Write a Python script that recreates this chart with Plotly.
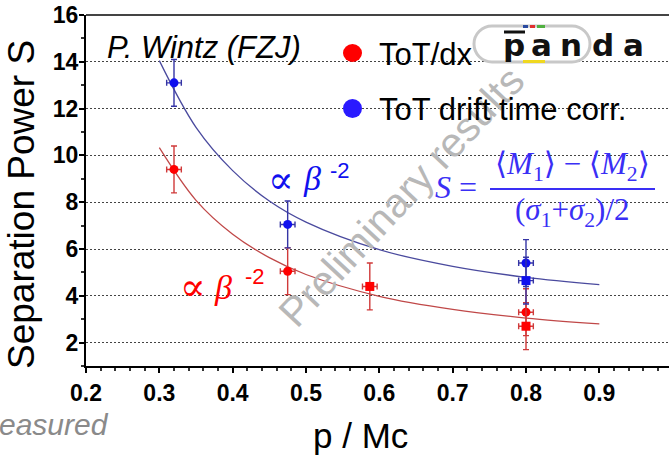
import plotly.graph_objects as go

# ---------------- data ----------------
red_circ_x = [0.32, 0.475, 0.80]
red_circ_y = [9.4, 5.05, 3.3]
red_circ_err = [1.0, 1.0, 1.0]

red_sq_x = [0.587, 0.80]
red_sq_y = [4.4, 2.7]
red_sq_err = [1.0, 1.0]

blue_circ_x = [0.32, 0.475, 0.80]
blue_circ_y = [13.1, 7.05, 5.4]
blue_circ_err = [1.0, 1.0, 1.0]

blue_sq_x = [0.80]
blue_sq_y = [4.65]
blue_sq_err = [1.0]

x_err = 0.01

fit_x = [0.30, 0.35, 0.40, 0.45, 0.50, 0.60, 0.70, 0.80, 0.90]
blue_fit = [14.05, 11.2, 9.35, 8.05, 7.15, 5.97, 5.26, 4.79, 4.48]
red_fit = [10.33, 8.08, 6.63, 5.63, 4.91, 3.98, 3.42, 3.05, 2.80]

x_ticks = [0.2, 0.3, 0.4, 0.5, 0.6, 0.7, 0.8, 0.9]
y_ticks = [2, 4, 6, 8, 10, 12, 14, 16]

# ---------------- layout helpers ----------------
W, H = 669, 456
PL, PR, PT, PB = 86, 669, 15, 366   # plot area in pixels


def px(x):
    return (x - PL) / (PR - PL)


def py(y):
    return (PB - y) / (PB - PT)


SANS = "Liberation Sans, Arial, sans-serif"
SERIF = "Liberation Serif, DejaVu Serif, serif"
RED = "#ff0000"
BLUE = "#1010ee"
FBLUE = "#3a2ff5"

fig = go.Figure()

# fit curves
fig.add_trace(go.Scatter(x=fit_x, y=blue_fit, mode="lines",
                         line=dict(color="#4a4a9e", width=1.3, shape="spline"),
                         hoverinfo="skip"))
fig.add_trace(go.Scatter(x=fit_x, y=red_fit, mode="lines",
                         line=dict(color="#c04848", width=1.3, shape="spline"),
                         hoverinfo="skip"))


def pts(x, y, e, color, ecolor, symbol):
    fig.add_trace(go.Scatter(
        x=x, y=y, mode="markers",
        marker=dict(color=color, size=9, symbol=symbol, line=dict(width=0)),
        error_y=dict(type="data", array=e, color=ecolor, thickness=1.4, width=3),
        error_x=dict(type="constant", value=x_err, color=ecolor, thickness=1.4, width=3),
    ))


pts(red_circ_x, red_circ_y, red_circ_err, RED, "#d03a3a", "circle")
pts(red_sq_x, red_sq_y, red_sq_err, RED, "#d03a3a", "square")
pts(blue_circ_x, blue_circ_y, blue_circ_err, BLUE, "#3535a5", "circle")
pts(blue_sq_x, blue_sq_y, blue_sq_err, BLUE, "#3535a5", "square")

shapes = []
# top frame line
shapes.append(dict(type="line", xref="paper", yref="paper", x0=0, x1=1, y0=1, y1=1,
                   line=dict(color="#444", width=2)))
# legend dots
shapes.append(dict(type="circle", xref="paper", yref="paper",
                   x0=px(343), x1=px(362), y0=py(62), y1=py(44),
                   fillcolor=RED, line=dict(width=0)))
shapes.append(dict(type="circle", xref="paper", yref="paper",
                   x0=px(343), x1=px(362), y0=py(118), y1=py(99),
                   fillcolor="#2a1aff", line=dict(width=0)))


# PANDA logo pill
def pill(x0, x1, y0, y1):
    r = (y1 - y0) / 2
    k = 0.5523 * r
    cyl = y0 + r
    lx, rx = x0 + r, x1 - r

    def P(x, y):
        return f"{px(x):.5f},{py(y):.5f}"
    d = (f"M {P(lx, y0)} L {P(rx, y0)} "
         f"C {P(rx + k, y0)} {P(x1, cyl - k)} {P(x1, cyl)} "
         f"C {P(x1, cyl + k)} {P(rx + k, y1)} {P(rx, y1)} "
         f"L {P(lx, y1)} "
         f"C {P(lx - k, y1)} {P(x0, cyl + k)} {P(x0, cyl)} "
         f"C {P(x0, cyl - k)} {P(lx - k, y0)} {P(lx, y0)} Z")
    return d


shapes.append(dict(type="path", xref="paper", yref="paper", path=pill(474, 590, 26, 62),
                   line=dict(color="#c8c8c8", width=3)))
for (a, b, c) in [(523, 528, "#2a4aa0"), (530, 535, "#e03030"), (537, 545, "#50b040")]:
    shapes.append(dict(type="rect", xref="paper", yref="paper", x0=px(a), x1=px(b),
                       y0=py(28), y1=py(25), fillcolor=c, line=dict(width=0)))
shapes.append(dict(type="rect", xref="paper", yref="paper", x0=px(523), x1=px(545),
                   y0=py(63), y1=py(60), fillcolor="#f0d820", line=dict(width=0)))
shapes.append(dict(type="line", xref="paper", yref="paper", x0=px(504), x1=px(525),
                   y0=py(32), y1=py(32), line=dict(color="#111", width=3)))
# fraction bar
shapes.append(dict(type="line", xref="paper", yref="paper", x0=px(490), x1=px(655),
                   y0=py(189), y1=py(189), line=dict(color=FBLUE, width=2)))

ann = []


def A(text, x, y, size, color="black", family=SANS, angle=0, xanchor="center", **kw):
    ann.append(dict(text=text, x=px(x), y=py(y), xref="paper", yref="paper",
                    xanchor=xanchor, yanchor="middle", showarrow=False, textangle=angle,
                    font=dict(size=size, color=color, family=family, **kw)))


# watermark
A("Preliminary results", 401, 197, 41, color="#b8b8b8", angle=-47)

# axis titles
A("Separation Power S", 22, 205, 37, angle=-90)
A("p / Mc", 360, 435, 35)
A("<i>easured</i>", -3, 424, 30, color="#8a8a8a", xanchor="left")

# author
A("<i>P. Wintz (FZJ)</i>", 204, 47, 31)

# legend texts
A("ToT/dx", 377, 54, 31, xanchor="left")
A("ToT drift time corr.", 377, 110, 31, xanchor="left")

# logo letters
for ch, cx in zip("panda", [514, 541, 571, 603, 633]):
    A(ch, cx, 45, 31, color="#111", family="DejaVu Sans, sans-serif", weight="bold")

# beta^-2 labels
A("∝", 281, 180, 38, color=BLUE, family="DejaVu Serif, serif")
A("<i>β</i>", 312, 178, 34, color=BLUE, family=SERIF)
A("-2", 340, 170, 22, color=BLUE)
A("∝", 193, 287, 38, color=RED, family="DejaVu Serif, serif")
A("<i>β</i>", 223, 287, 34, color=RED, family=SERIF)
A("-2", 255, 276, 22, color=RED)

# formula
A("<i>S</i> =", 456, 187, 32, color=FBLUE, family=SERIF)
A("⟨<i>M</i><sub>1</sub>⟩ − ⟨<i>M</i><sub>2</sub>⟩", 572, 166, 31, color=FBLUE, family=SERIF)
A("(<i>σ</i><sub>1</sub>+<i>σ</i><sub>2</sub>)/2", 572, 212, 31, color=FBLUE, family=SERIF)

fig.update_layout(
    template="none",
    width=W, height=H,
    margin=dict(l=PL, r=W - PR, t=PT, b=H - PB),
    paper_bgcolor="white", plot_bgcolor="white",
    showlegend=False,
    shapes=shapes,
    annotations=ann,
    xaxis=dict(range=[0.2, 0.995], tickvals=x_ticks,
               ticktext=[f"<b>{v:.1f}</b>" for v in x_ticks],
               showgrid=False, zeroline=False, showline=True, linecolor="black", linewidth=2,
               ticks="outside", ticklen=5, tickwidth=2, tickcolor="black",
               minor=dict(dtick=0.02, tick0=0.2, ticks="outside", ticklen=3, tickwidth=1.5,
                          tickcolor="#333", showgrid=False),
               automargin=False),
    yaxis=dict(range=[1, 16], tickvals=y_ticks, ticktext=[f"<b>{v}</b>" for v in y_ticks],
               showgrid=True, gridcolor="#444", gridwidth=1, griddash="2px,2px",
               zeroline=False, showline=True, linecolor="black", linewidth=2,
               ticks="outside", ticklen=5, tickwidth=2, tickcolor="black",
               ticklabelstandoff=-4,
               minor=dict(dtick=1, tick0=1, ticks="outside", ticklen=3, tickwidth=1.5,
                          tickcolor="#333", showgrid=False),
               automargin=False),
)
fig.update_xaxes(tickfont_size=23, tickfont_family="Arial", tickfont_color="black")
fig.update_yaxes(tickfont_size=23, tickfont_family="Arial", tickfont_color="black")

fig.write_html("out.html")
